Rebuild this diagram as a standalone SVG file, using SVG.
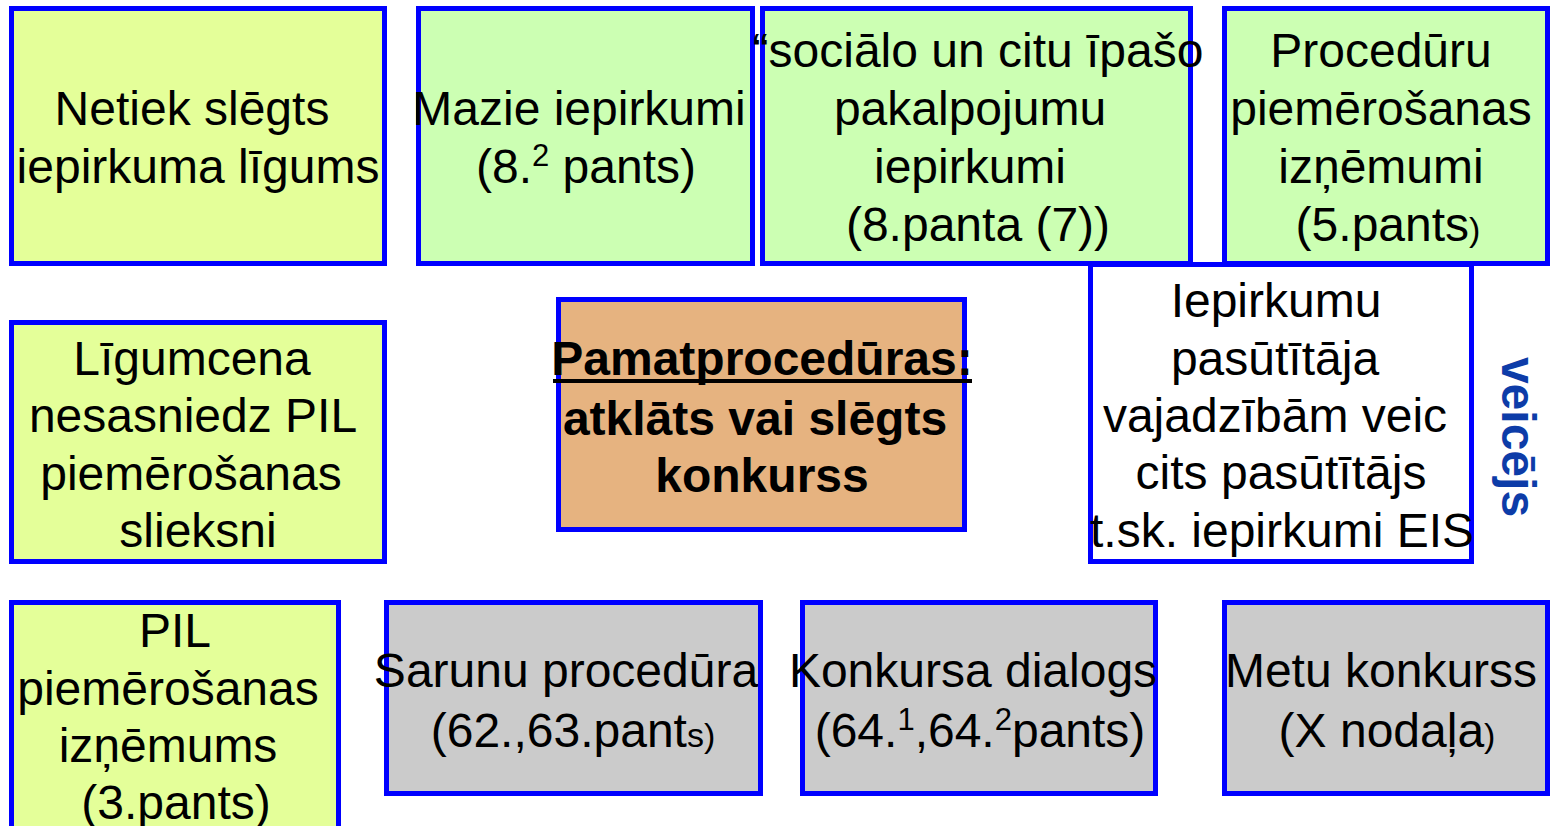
<svg xmlns="http://www.w3.org/2000/svg" width="1551" height="826" viewBox="0 0 1551 826">
<style>
.box{stroke:#0000FF;stroke-width:5}
.y{fill:#E4FF99}
.g{fill:#CCFFB3}
.w{fill:#FFFFFF}
.gr{fill:#CBCBCB}
.t{fill:#E6B380}
text{font-family:"Liberation Sans",Arial,sans-serif;font-size:48px;fill:#000;text-anchor:middle}
.b{font-weight:bold}
.sup{font-size:31px}
.sm{font-size:34px}
.v{font-weight:bold;fill:#0D3CA8;font-size:48px}
</style>
<rect width="1551" height="826" fill="#FFFFFF"/>
<g id="n1">
<rect class="box y" x="11.5" y="8.5" width="373" height="255"/>
<text x="192" y="125">Netiek slēgts</text>
<text x="198" y="183">iepirkuma līgums</text>
</g>
<g id="n2">
<rect class="box g" x="418.5" y="8.5" width="334" height="255"/>
<text x="579" y="125">Mazie iepirkumi</text>
<text x="586" y="183">(8.<tspan class="sup" dy="-17">2</tspan><tspan dy="17"> pants)</tspan></text>
</g>
<g id="n3">
<rect class="box g" x="762.5" y="8.5" width="428" height="255"/>
<text x="978" y="67">“sociālo un citu īpašo</text>
<text x="970" y="125">pakalpojumu</text>
<text x="970" y="183">iepirkumi</text>
<text x="978" y="241">(8.panta (7))</text>
</g>
<g id="n4">
<rect class="box g" x="1224.5" y="8.5" width="323" height="255"/>
<text x="1381" y="67">Procedūru</text>
<text x="1381" y="125">piemērošanas</text>
<text x="1381" y="183">izņēmumi</text>
<text x="1388" y="241">(5.pants<tspan class="sm">)</tspan></text>
</g>
<g id="n5">
<rect class="box w" x="1090.5" y="264.5" width="381" height="297"/>
<text x="1276" y="317">Iepirkumu</text>
<text x="1275" y="375">pasūtītāja</text>
<text x="1275" y="432">vajadzībām veic</text>
<text x="1281" y="489">cits pasūtītājs</text>
<text x="1282" y="547">t.sk. iepirkumi EIS</text>
</g>
<g id="n6">
<rect class="box y" x="11.5" y="322.5" width="373" height="239"/>
<text x="192" y="375">Līgumcena</text>
<text x="193" y="432">nesasniedz PIL</text>
<text x="191" y="490">piemērošanas</text>
<text x="198" y="547">slieksni</text>
</g>
<g id="n7">
<rect class="box t" x="558.5" y="299.5" width="406" height="230"/>
<text class="b" x="762" y="375">Pamatprocedūras:</text>
<rect x="553" y="379" width="419" height="4" fill="#000"/>
<text class="b" x="755" y="435">atklāts vai slēgts</text>
<text class="b" x="762" y="492">konkurss</text>
</g>
<g id="n8">
<rect class="box y" x="11.5" y="602.5" width="327" height="240"/>
<text x="175" y="647">PIL</text>
<text x="168" y="705">piemērošanas</text>
<text x="168" y="762">izņēmums</text>
<text x="176" y="819">(3.pants)</text>
</g>
<g id="n9">
<rect class="box gr" x="386.5" y="602.5" width="374" height="191"/>
<text x="566" y="687">Sarunu procedūra</text>
<text x="573" y="747">(62.,63.pant<tspan class="sm">s)</tspan></text>
</g>
<g id="n10">
<rect class="box gr" x="802.5" y="602.5" width="353" height="191"/>
<text x="973" y="687">Konkursa dialogs</text>
<text x="980" y="747">(64.<tspan class="sup" dy="-17">1</tspan><tspan dy="17">,64.</tspan><tspan class="sup" dy="-17">2</tspan><tspan dy="17">pants)</tspan></text>
</g>
<g id="n11">
<rect class="box gr" x="1224.5" y="602.5" width="323" height="191"/>
<text x="1381" y="687">Metu konkurss</text>
<text x="1387" y="747">(X nodaļa<tspan class="sm">)</tspan></text>
</g>
<g id="label-veicejs">
<text class="v" transform="translate(1502,437) rotate(90)">veicējs</text>
</g>
<g id="connectors"></g>
</svg>
